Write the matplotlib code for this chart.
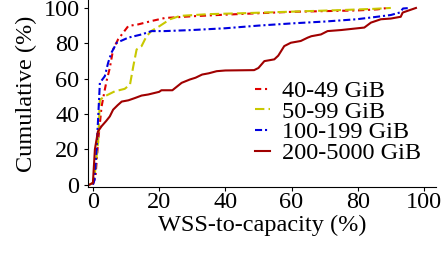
import matplotlib
matplotlib.use('Agg')
import matplotlib.pyplot as plt

plt.rcParams['font.family'] = ['Liberation Serif', 'DejaVu Serif']
plt.rcParams['font.size'] = 17.5

# CDF points (WSS-to-capacity %, cumulative %)
x_40_49 = [0, 0.8, 1.6, 2.6, 3.6, 4.1, 5.1, 6.1, 7.6, 10.7, 13.7, 17.7, 21.7,
           30, 40, 50, 60, 70, 80, 86, 89]
y_40_49 = [0, 5, 25, 44, 53.8, 58.5, 66, 76.5, 82.2, 89.8, 90.7, 92.6, 94.3,
           95.3, 96.2, 97, 97.8, 98.2, 98.6, 99.2, 100]

x_50_99 = [-1, 0, 0.6, 1.6, 2.1, 3.6, 6.6, 9.6, 11.2, 12.2, 13.2, 14.7, 16.2,
           17.7, 20.2, 23.3, 26.3, 35, 45, 60, 75, 85, 90]
y_50_99 = [0, 1, 6.5, 25, 48, 50, 52.8, 54.2, 56.6, 67, 76.5, 78.4, 84,
           87, 89.8, 93.6, 95.5, 96.5, 97, 97.9, 98.8, 99.5, 100]

x_100_199 = [0, 0.5, 1.1, 1.6, 2.1, 3.6, 4.6, 5.6, 7.2, 10.7, 14.7, 17.7, 21.7,
             30, 40, 50, 60.5, 70, 79.7, 85, 90, 92.7, 93.7, 96]
y_100_199 = [0, 2.7, 20, 38.6, 57.6, 61.4, 69, 74.7, 80.3, 83.2, 85, 86.9, 86.9,
             87.5, 88.5, 90, 91.3, 92.3, 93.6, 94.8, 96, 97.4, 99.7, 100]

x_200_5000 = [-1, 0, 0.6, 1.5, 2.6, 4, 5.1, 6.1, 7.5, 8.7, 10.7, 12.7, 14.7, 16.7,
              20, 20.7, 24, 26.8, 29.3, 31, 33, 35, 37.4, 40, 48.7, 50, 51.8,
              54.8, 56, 57.8, 59.8, 62.8, 64.9, 66, 68.9, 70.9, 75, 82, 84, 87,
              90, 93, 93.6, 97.6]
y_200_5000 = [0, 1, 20, 30, 33, 36, 38.6, 42.4, 45, 47, 47.7, 49, 50.4, 51,
              52.5, 53.4, 53.4, 57.6, 59.5, 60.5, 62.3, 63, 64.2, 64.6, 64.8, 66,
              69.9, 70.9, 73, 78.4, 80.3, 81.3, 83.2, 84, 85, 86.9, 87.5, 88.9,
              91.7, 93.6, 94, 95, 97.4, 100]

labels = ['40-49 GiB', '50-99 GiB', '100-199 GiB', '200-5000 GiB']

fig = plt.figure(figsize=(4.42, 2.56), dpi=100)
ax = fig.add_axes([0.199, 0.27, 0.787, 0.73])

ax.plot(x_40_49, y_40_49, color='#e00000', lw=1.5, dashes=(3, 1.8, 1, 1.8),
        label=labels[0])
ax.plot(x_50_99, y_50_99, color='#c8c800', lw=1.5, dashes=(4.5, 2),
        label=labels[1])
ax.plot(x_100_199, y_100_199, color='#0000e0', lw=1.5, dashes=(3.4, 1.4, 1, 1.4),
        label=labels[2])
ax.plot(x_200_5000, y_200_5000, color='#a00000', lw=1.5, label=labels[3])

ax.set_xlim(-1.5, 103.6)
ax.set_ylim(-1.3, 104.5)
ax.set_xticks([0, 20, 40, 60, 80, 100])
ax.set_yticks([0, 20, 40, 60, 80, 100])
ax.spines['top'].set_visible(False)
ax.spines['right'].set_visible(False)
ax.tick_params(direction='out', length=3)
ax.tick_params(axis='x', pad=1)
ax.tick_params(axis='y', pad=3)
ax.set_xlabel('WSS-to-capacity (%)', labelpad=1)
ax.set_ylabel('Cumulative (%)', labelpad=5)

ax.legend(loc='upper left', bbox_to_anchor=(0.48, 0.57), frameon=False,
          handlelength=0.62, handletextpad=0.5, labelspacing=-0.06,
          borderpad=0, borderaxespad=0)

fig.savefig('out.png', dpi=100)
